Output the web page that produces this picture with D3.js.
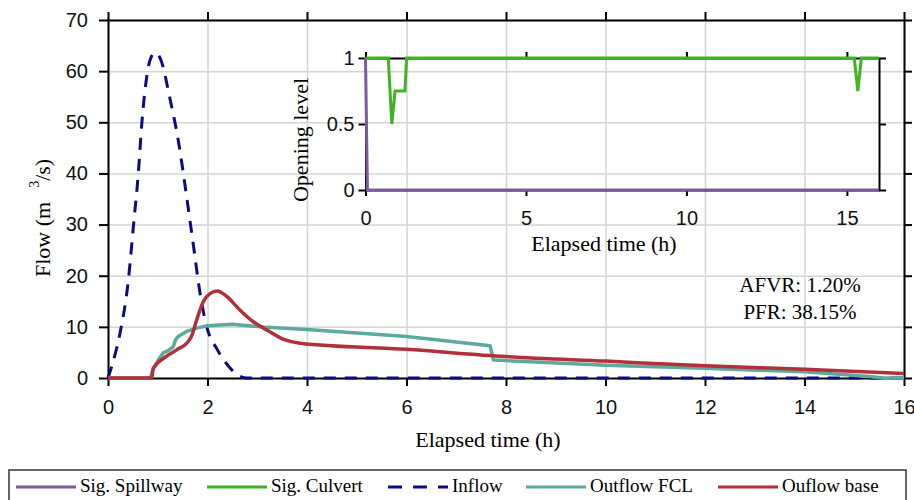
<!DOCTYPE html>
<html>
<head>
<meta charset="utf-8">
<script src="https://cdn.jsdelivr.net/npm/d3@7"></script>
<style>
  body { margin: 0; background: #fff; }
  svg { display: block; font-family: "Liberation Serif", "Times New Roman", serif; }
  .grid line { stroke: #d4d4d4; stroke-width: 1.5; }
  .grid path { display: none; }
  .ax path, .ax line { stroke: #000; stroke-width: 2; }
  .ax text { fill: #111; }
</style>
</head>
<body>
<script>
// Flow series (time in h, flow in m3/s)
const inflowTime = [0, 0.14, 0.24, 0.41, 0.51, 0.61, 0.68, 0.78, 0.84, 0.94, 1.05, 1.25, 1.41, 1.58, 1.72, 1.85, 1.98, 2.2, 2.4, 2.55, 2.8, 16];
const inflowFlow = [0, 4.5, 8.7, 19.2, 29.6, 40.1, 49.8, 59, 62, 63.6, 62.5, 54.4, 46.6, 35.5, 25.7, 16.6, 10.2, 5.5, 2.6, 1.0, 0, 0];

const fclTime = [0, 0.85, 0.9, 0.97, 1.01, 1.11, 1.2, 1.31, 1.36, 1.41, 1.58, 1.8, 2.0, 2.5, 3.2, 4.0, 6.0, 7.68, 7.75, 8.0, 10, 12, 14, 15.3, 15.6, 16];
const fclFlow = [0, 0, 1.6, 2.6, 3.5, 4.9, 5.3, 6.1, 7.5, 8.1, 9.1, 9.8, 10.2, 10.5, 9.9, 9.5, 8.1, 6.3, 3.5, 3.4, 2.5, 1.9, 1.2, 0.3, 0, 0];

const baseTime = [0, 0.88, 0.91, 1.11, 1.38, 1.6, 1.68, 1.78, 1.92, 2.05, 2.2, 2.38, 2.65, 2.92, 3.19, 3.52, 3.86, 6.0, 8.0, 10, 12, 14, 16];
const baseFlow = [0, 0, 1.9, 3.8, 5.5, 7.0, 8.2, 11.3, 15.0, 16.5, 17.0, 16.0, 13.3, 11.0, 9.4, 7.6, 6.8, 5.6, 4.2, 3.3, 2.4, 1.7, 0.9];

// Gate opening signals (inset)
const spillTime = [0, 0.06, 16];
const spillLevel = [1, 0, 0];
const culvTime = [0, 0.71, 0.82, 0.92, 1.23, 1.28, 15.23, 15.34, 15.45, 16];
const culvLevel = [1, 1, 0.5, 0.75, 0.75, 1, 1, 0.75, 1, 1];

const mainXTicks = [0, 2, 4, 6, 8, 10, 12, 14, 16];
const mainYTicks = [0, 10, 20, 30, 40, 50, 60, 70];
const insetXTicks = [0, 5, 10, 15];
const insetYTicks = [0, 0.5, 1];

const legendNames = ["Sig. Spillway", "Sig. Culvert", "Inflow", "Outflow FCL", "Ouflow base"];
const colors = { spill: "#7d5a9c", culv: "#3cb521", inflow: "#0b0b86", fcl: "#5aab9c", base: "#b3303a" };

const zip = (a, b) => a.map((t, i) => [t, b[i]]);

let svg = d3.select("body").append("svg").attr("width", 914).attr("height", 500);

// main plot area
let x = d3.scaleLinear().domain([0, 16]).range([108, 904]);
let y = d3.scaleLinear().domain([0, 70]).range([378, 20]);

// grid lines
svg.append("g").attr("class", "grid")
   .attr("transform", "translate(0,378)")
   .call(d3.axisBottom(x).tickValues(mainXTicks).tickSize(-358).tickFormat(""));
svg.append("g").attr("class", "grid")
   .attr("transform", "translate(108,0)")
   .call(d3.axisLeft(y).tickValues(mainYTicks).tickSize(-796).tickFormat(""));

// axes on all four sides, ticks outward
let xb = svg.append("g").attr("class", "ax").attr("transform", "translate(0,378)")
   .call(d3.axisBottom(x).tickValues(mainXTicks).tickSize(8).tickSizeOuter(0).tickPadding(14));
svg.append("g").attr("class", "ax").attr("transform", "translate(0,20)")
   .call(d3.axisTop(x).tickValues(mainXTicks).tickSize(8).tickSizeOuter(0).tickFormat(""));
let yl = svg.append("g").attr("class", "ax").attr("transform", "translate(108,0)")
   .call(d3.axisLeft(y).tickValues(mainYTicks).tickSize(9).tickSizeOuter(0).tickPadding(11));
svg.append("g").attr("class", "ax").attr("transform", "translate(904,0)")
   .call(d3.axisRight(y).tickValues(mainYTicks).tickSize(8).tickSizeOuter(0).tickFormat(""));
xb.selectAll("text").style("font-size", "20px").style("font-family", "inherit");
yl.selectAll("text").style("font-size", "20px").style("font-family", "inherit");

// axis titles
svg.append("text").attr("x", 488).attr("y", 447).attr("text-anchor", "middle")
   .style("font-size", "22px").text("Elapsed time (h)");
let ylab = svg.append("text").attr("transform", "translate(50,277) rotate(-90)")
   .style("font-size", "22px");
ylab.append("tspan").text("Flow (m");
ylab.append("tspan").attr("dx", 14).attr("dy", -11).style("font-size", "14px").text("3");
ylab.append("tspan").attr("dy", 11).text("/s)");

// flow lines
let line = d3.line().x(d => x(d[0])).y(d => y(d[1]));
let smooth = d3.line().x(d => x(d[0])).y(d => y(d[1])).curve(d3.curveMonotoneX);

svg.append("path").datum(zip(inflowTime, inflowFlow)).attr("d", smooth)
   .attr("fill", "none").attr("stroke", colors.inflow).attr("stroke-width", 3)
   .attr("stroke-dasharray", "12,9");
svg.append("path").datum(zip(fclTime, fclFlow)).attr("d", line)
   .attr("fill", "none").attr("stroke", colors.fcl).attr("stroke-width", 3.5)
   .attr("stroke-linejoin", "round");
svg.append("path").datum(zip(baseTime, baseFlow)).attr("d", smooth)
   .attr("fill", "none").attr("stroke", colors.base).attr("stroke-width", 3.5);

// annotation
svg.append("text").attr("x", 800).attr("y", 292).attr("text-anchor", "middle")
   .style("font-size", "21px").text("AFVR: 1.20%");
svg.append("text").attr("x", 800).attr("y", 319).attr("text-anchor", "middle")
   .style("font-size", "21px").text("PFR: 38.15%");

// inset: gate opening levels
let ix = d3.scaleLinear().domain([0, 16]).range([365.5, 879]);
let iy = d3.scaleLinear().domain([0, 1]).range([190, 58]);

let ixb = svg.append("g").attr("class", "ax").attr("transform", "translate(0,190)")
   .call(d3.axisBottom(ix).tickValues(insetXTicks).tickSize(6).tickSizeOuter(0).tickPadding(15));
svg.append("g").attr("class", "ax").attr("transform", "translate(0,58)")
   .call(d3.axisTop(ix).tickValues(insetXTicks).tickSize(6).tickSizeOuter(0).tickFormat(""));
let iyl = svg.append("g").attr("class", "ax").attr("transform", "translate(365.5,0)")
   .call(d3.axisLeft(iy).tickValues(insetYTicks).tickSize(7).tickSizeOuter(0).tickPadding(4).tickFormat(d3.format("")));
svg.append("g").attr("class", "ax").attr("transform", "translate(879,0)")
   .call(d3.axisRight(iy).tickValues(insetYTicks).tickSize(7).tickSizeOuter(0).tickFormat(""));
ixb.selectAll("text").style("font-size", "20px").style("font-family", "inherit");
iyl.selectAll("text").style("font-size", "20px").style("font-family", "inherit");

svg.append("text").attr("x", 604).attr("y", 251).attr("text-anchor", "middle")
   .style("font-size", "22px").text("Elapsed time (h)");
svg.append("text").attr("transform", "translate(308,140) rotate(-90)").attr("text-anchor", "middle")
   .style("font-size", "22px").text("Opening level");

let iline = d3.line().x(d => ix(d[0])).y(d => iy(d[1]));
svg.append("path").datum(zip(spillTime, spillLevel)).attr("d", iline)
   .attr("fill", "none").attr("stroke", colors.spill).attr("stroke-width", 3);
svg.append("path").datum(zip(culvTime, culvLevel)).attr("d", iline)
   .attr("fill", "none").attr("stroke", colors.culv).attr("stroke-width", 3);

// legend
let legend = svg.append("g");
legend.append("rect").attr("x", 9).attr("y", 470).attr("width", 897).attr("height", 40)
   .attr("fill", "#fff").attr("stroke", "#333").attr("stroke-width", 1.5);
let legendKeys = ["spill", "culv", "inflow", "fcl", "base"];
let legendX = [16, 207, 388, 526, 718];
legendNames.forEach((name, i) => {
  let g = legend.append("g").attr("transform", `translate(${legendX[i]},487)`);
  g.append("line").attr("x1", 0).attr("x2", 60).attr("y1", 0).attr("y2", 0)
   .attr("stroke", colors[legendKeys[i]]).attr("stroke-width", 3)
   .attr("stroke-dasharray", legendKeys[i] === "inflow" ? "14,11" : null);
  g.append("text").attr("x", 64).attr("y", 5).style("font-size", "19px").text(name);
});
</script>
</body>
</html>
